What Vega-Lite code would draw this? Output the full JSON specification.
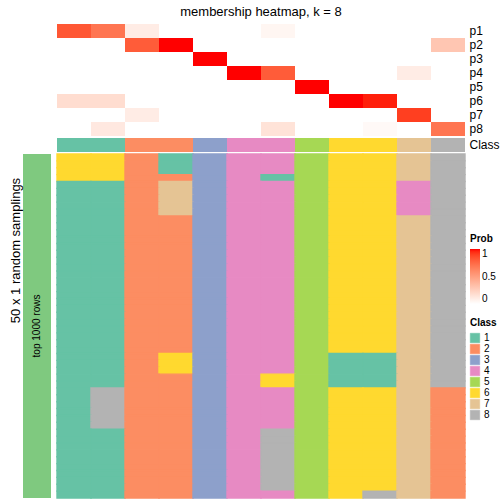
{
"$schema":"https://vega.github.io/schema/vega-lite/v6.json",
"padding":{"left":9,"top":6,"right":0,"bottom":0},
"config":{"font":"Liberation Sans","view":{"stroke":null},"title":{"fontSize":13,"fontWeight":"normal","color":"#000"},"axis":{"labelColor":"#000","titleColor":"#000"},"legend":{"titleColor":"#000","labelColor":"#000"}},
"datasets":{
"prob":[
{"p":"p1","col":1,"prob":0.82},{"p":"p1","col":2,"prob":0.70},{"p":"p1","col":3,"prob":0.10},{"p":"p1","col":4,"prob":0},{"p":"p1","col":5,"prob":0},{"p":"p1","col":6,"prob":0},{"p":"p1","col":7,"prob":0.05},{"p":"p1","col":8,"prob":0},{"p":"p1","col":9,"prob":0},{"p":"p1","col":10,"prob":0},{"p":"p1","col":11,"prob":0},{"p":"p1","col":12,"prob":0},
{"p":"p2","col":1,"prob":0},{"p":"p2","col":2,"prob":0},{"p":"p2","col":3,"prob":0.80},{"p":"p2","col":4,"prob":1},{"p":"p2","col":5,"prob":0},{"p":"p2","col":6,"prob":0},{"p":"p2","col":7,"prob":0},{"p":"p2","col":8,"prob":0},{"p":"p2","col":9,"prob":0},{"p":"p2","col":10,"prob":0},{"p":"p2","col":11,"prob":0},{"p":"p2","col":12,"prob":0.30},
{"p":"p3","col":1,"prob":0},{"p":"p3","col":2,"prob":0},{"p":"p3","col":3,"prob":0},{"p":"p3","col":4,"prob":0},{"p":"p3","col":5,"prob":1},{"p":"p3","col":6,"prob":0},{"p":"p3","col":7,"prob":0},{"p":"p3","col":8,"prob":0},{"p":"p3","col":9,"prob":0},{"p":"p3","col":10,"prob":0},{"p":"p3","col":11,"prob":0},{"p":"p3","col":12,"prob":0},
{"p":"p4","col":1,"prob":0},{"p":"p4","col":2,"prob":0},{"p":"p4","col":3,"prob":0},{"p":"p4","col":4,"prob":0},{"p":"p4","col":5,"prob":0},{"p":"p4","col":6,"prob":1},{"p":"p4","col":7,"prob":0.80},{"p":"p4","col":8,"prob":0},{"p":"p4","col":9,"prob":0},{"p":"p4","col":10,"prob":0},{"p":"p4","col":11,"prob":0.10},{"p":"p4","col":12,"prob":0},
{"p":"p5","col":1,"prob":0},{"p":"p5","col":2,"prob":0},{"p":"p5","col":3,"prob":0},{"p":"p5","col":4,"prob":0},{"p":"p5","col":5,"prob":0},{"p":"p5","col":6,"prob":0},{"p":"p5","col":7,"prob":0},{"p":"p5","col":8,"prob":1},{"p":"p5","col":9,"prob":0},{"p":"p5","col":10,"prob":0},{"p":"p5","col":11,"prob":0},{"p":"p5","col":12,"prob":0},
{"p":"p6","col":1,"prob":0.18},{"p":"p6","col":2,"prob":0.18},{"p":"p6","col":3,"prob":0},{"p":"p6","col":4,"prob":0},{"p":"p6","col":5,"prob":0},{"p":"p6","col":6,"prob":0},{"p":"p6","col":7,"prob":0},{"p":"p6","col":8,"prob":0},{"p":"p6","col":9,"prob":1},{"p":"p6","col":10,"prob":0.97},{"p":"p6","col":11,"prob":0},{"p":"p6","col":12,"prob":0},
{"p":"p7","col":1,"prob":0},{"p":"p7","col":2,"prob":0},{"p":"p7","col":3,"prob":0.10},{"p":"p7","col":4,"prob":0},{"p":"p7","col":5,"prob":0},{"p":"p7","col":6,"prob":0},{"p":"p7","col":7,"prob":0},{"p":"p7","col":8,"prob":0},{"p":"p7","col":9,"prob":0},{"p":"p7","col":10,"prob":0},{"p":"p7","col":11,"prob":0.90},{"p":"p7","col":12,"prob":0},
{"p":"p8","col":1,"prob":0},{"p":"p8","col":2,"prob":0.12},{"p":"p8","col":3,"prob":0},{"p":"p8","col":4,"prob":0},{"p":"p8","col":5,"prob":0},{"p":"p8","col":6,"prob":0},{"p":"p8","col":7,"prob":0.15},{"p":"p8","col":8,"prob":0},{"p":"p8","col":9,"prob":0},{"p":"p8","col":10,"prob":0.03},{"p":"p8","col":11,"prob":0},{"p":"p8","col":12,"prob":0.70}
],
"classrow":[
{"col":1,"cls":1},{"col":2,"cls":1},{"col":3,"cls":2},{"col":4,"cls":2},{"col":5,"cls":3},{"col":6,"cls":4},{"col":7,"cls":4},{"col":8,"cls":5},{"col":9,"cls":6},{"col":10,"cls":6},{"col":11,"cls":7},{"col":12,"cls":8}
],
"samples":[
{"row":0,"col":1,"cls":6},{"row":0,"col":2,"cls":6},{"row":0,"col":3,"cls":2},{"row":0,"col":4,"cls":1},{"row":0,"col":5,"cls":3},{"row":0,"col":6,"cls":4},{"row":0,"col":7,"cls":4},{"row":0,"col":8,"cls":5},{"row":0,"col":9,"cls":6},{"row":0,"col":10,"cls":6},{"row":0,"col":11,"cls":7},{"row":0,"col":12,"cls":8},
{"row":1,"col":1,"cls":6},{"row":1,"col":2,"cls":6},{"row":1,"col":3,"cls":2},{"row":1,"col":4,"cls":1},{"row":1,"col":5,"cls":3},{"row":1,"col":6,"cls":4},{"row":1,"col":7,"cls":4},{"row":1,"col":8,"cls":5},{"row":1,"col":9,"cls":6},{"row":1,"col":10,"cls":6},{"row":1,"col":11,"cls":7},{"row":1,"col":12,"cls":8},
{"row":2,"col":1,"cls":6},{"row":2,"col":2,"cls":6},{"row":2,"col":3,"cls":2},{"row":2,"col":4,"cls":1},{"row":2,"col":5,"cls":3},{"row":2,"col":6,"cls":4},{"row":2,"col":7,"cls":4},{"row":2,"col":8,"cls":5},{"row":2,"col":9,"cls":6},{"row":2,"col":10,"cls":6},{"row":2,"col":11,"cls":7},{"row":2,"col":12,"cls":8},
{"row":3,"col":1,"cls":6},{"row":3,"col":2,"cls":6},{"row":3,"col":3,"cls":2},{"row":3,"col":4,"cls":2},{"row":3,"col":5,"cls":3},{"row":3,"col":6,"cls":4},{"row":3,"col":7,"cls":1},{"row":3,"col":8,"cls":5},{"row":3,"col":9,"cls":6},{"row":3,"col":10,"cls":6},{"row":3,"col":11,"cls":7},{"row":3,"col":12,"cls":8},
{"row":4,"col":1,"cls":1},{"row":4,"col":2,"cls":1},{"row":4,"col":3,"cls":2},{"row":4,"col":4,"cls":7},{"row":4,"col":5,"cls":3},{"row":4,"col":6,"cls":4},{"row":4,"col":7,"cls":4},{"row":4,"col":8,"cls":5},{"row":4,"col":9,"cls":6},{"row":4,"col":10,"cls":6},{"row":4,"col":11,"cls":4},{"row":4,"col":12,"cls":8},
{"row":5,"col":1,"cls":1},{"row":5,"col":2,"cls":1},{"row":5,"col":3,"cls":2},{"row":5,"col":4,"cls":7},{"row":5,"col":5,"cls":3},{"row":5,"col":6,"cls":4},{"row":5,"col":7,"cls":4},{"row":5,"col":8,"cls":5},{"row":5,"col":9,"cls":6},{"row":5,"col":10,"cls":6},{"row":5,"col":11,"cls":4},{"row":5,"col":12,"cls":8},
{"row":6,"col":1,"cls":1},{"row":6,"col":2,"cls":1},{"row":6,"col":3,"cls":2},{"row":6,"col":4,"cls":7},{"row":6,"col":5,"cls":3},{"row":6,"col":6,"cls":4},{"row":6,"col":7,"cls":4},{"row":6,"col":8,"cls":5},{"row":6,"col":9,"cls":6},{"row":6,"col":10,"cls":6},{"row":6,"col":11,"cls":4},{"row":6,"col":12,"cls":8},
{"row":7,"col":1,"cls":1},{"row":7,"col":2,"cls":1},{"row":7,"col":3,"cls":2},{"row":7,"col":4,"cls":7},{"row":7,"col":5,"cls":3},{"row":7,"col":6,"cls":4},{"row":7,"col":7,"cls":4},{"row":7,"col":8,"cls":5},{"row":7,"col":9,"cls":6},{"row":7,"col":10,"cls":6},{"row":7,"col":11,"cls":4},{"row":7,"col":12,"cls":8},
{"row":8,"col":1,"cls":1},{"row":8,"col":2,"cls":1},{"row":8,"col":3,"cls":2},{"row":8,"col":4,"cls":7},{"row":8,"col":5,"cls":3},{"row":8,"col":6,"cls":4},{"row":8,"col":7,"cls":4},{"row":8,"col":8,"cls":5},{"row":8,"col":9,"cls":6},{"row":8,"col":10,"cls":6},{"row":8,"col":11,"cls":4},{"row":8,"col":12,"cls":8},
{"row":9,"col":1,"cls":1},{"row":9,"col":2,"cls":1},{"row":9,"col":3,"cls":2},{"row":9,"col":4,"cls":2},{"row":9,"col":5,"cls":3},{"row":9,"col":6,"cls":4},{"row":9,"col":7,"cls":4},{"row":9,"col":8,"cls":5},{"row":9,"col":9,"cls":6},{"row":9,"col":10,"cls":6},{"row":9,"col":11,"cls":7},{"row":9,"col":12,"cls":8},
{"row":10,"col":1,"cls":1},{"row":10,"col":2,"cls":1},{"row":10,"col":3,"cls":2},{"row":10,"col":4,"cls":2},{"row":10,"col":5,"cls":3},{"row":10,"col":6,"cls":4},{"row":10,"col":7,"cls":4},{"row":10,"col":8,"cls":5},{"row":10,"col":9,"cls":6},{"row":10,"col":10,"cls":6},{"row":10,"col":11,"cls":7},{"row":10,"col":12,"cls":8},
{"row":11,"col":1,"cls":1},{"row":11,"col":2,"cls":1},{"row":11,"col":3,"cls":2},{"row":11,"col":4,"cls":2},{"row":11,"col":5,"cls":3},{"row":11,"col":6,"cls":4},{"row":11,"col":7,"cls":4},{"row":11,"col":8,"cls":5},{"row":11,"col":9,"cls":6},{"row":11,"col":10,"cls":6},{"row":11,"col":11,"cls":7},{"row":11,"col":12,"cls":8},
{"row":12,"col":1,"cls":1},{"row":12,"col":2,"cls":1},{"row":12,"col":3,"cls":2},{"row":12,"col":4,"cls":2},{"row":12,"col":5,"cls":3},{"row":12,"col":6,"cls":4},{"row":12,"col":7,"cls":4},{"row":12,"col":8,"cls":5},{"row":12,"col":9,"cls":6},{"row":12,"col":10,"cls":6},{"row":12,"col":11,"cls":7},{"row":12,"col":12,"cls":8},
{"row":13,"col":1,"cls":1},{"row":13,"col":2,"cls":1},{"row":13,"col":3,"cls":2},{"row":13,"col":4,"cls":2},{"row":13,"col":5,"cls":3},{"row":13,"col":6,"cls":4},{"row":13,"col":7,"cls":4},{"row":13,"col":8,"cls":5},{"row":13,"col":9,"cls":6},{"row":13,"col":10,"cls":6},{"row":13,"col":11,"cls":7},{"row":13,"col":12,"cls":8},
{"row":14,"col":1,"cls":1},{"row":14,"col":2,"cls":1},{"row":14,"col":3,"cls":2},{"row":14,"col":4,"cls":2},{"row":14,"col":5,"cls":3},{"row":14,"col":6,"cls":4},{"row":14,"col":7,"cls":4},{"row":14,"col":8,"cls":5},{"row":14,"col":9,"cls":6},{"row":14,"col":10,"cls":6},{"row":14,"col":11,"cls":7},{"row":14,"col":12,"cls":8},
{"row":15,"col":1,"cls":1},{"row":15,"col":2,"cls":1},{"row":15,"col":3,"cls":2},{"row":15,"col":4,"cls":2},{"row":15,"col":5,"cls":3},{"row":15,"col":6,"cls":4},{"row":15,"col":7,"cls":4},{"row":15,"col":8,"cls":5},{"row":15,"col":9,"cls":6},{"row":15,"col":10,"cls":6},{"row":15,"col":11,"cls":7},{"row":15,"col":12,"cls":8},
{"row":16,"col":1,"cls":1},{"row":16,"col":2,"cls":1},{"row":16,"col":3,"cls":2},{"row":16,"col":4,"cls":2},{"row":16,"col":5,"cls":3},{"row":16,"col":6,"cls":4},{"row":16,"col":7,"cls":4},{"row":16,"col":8,"cls":5},{"row":16,"col":9,"cls":6},{"row":16,"col":10,"cls":6},{"row":16,"col":11,"cls":7},{"row":16,"col":12,"cls":8},
{"row":17,"col":1,"cls":1},{"row":17,"col":2,"cls":1},{"row":17,"col":3,"cls":2},{"row":17,"col":4,"cls":2},{"row":17,"col":5,"cls":3},{"row":17,"col":6,"cls":4},{"row":17,"col":7,"cls":4},{"row":17,"col":8,"cls":5},{"row":17,"col":9,"cls":6},{"row":17,"col":10,"cls":6},{"row":17,"col":11,"cls":7},{"row":17,"col":12,"cls":8},
{"row":18,"col":1,"cls":1},{"row":18,"col":2,"cls":1},{"row":18,"col":3,"cls":2},{"row":18,"col":4,"cls":2},{"row":18,"col":5,"cls":3},{"row":18,"col":6,"cls":4},{"row":18,"col":7,"cls":4},{"row":18,"col":8,"cls":5},{"row":18,"col":9,"cls":6},{"row":18,"col":10,"cls":6},{"row":18,"col":11,"cls":7},{"row":18,"col":12,"cls":8},
{"row":19,"col":1,"cls":1},{"row":19,"col":2,"cls":1},{"row":19,"col":3,"cls":2},{"row":19,"col":4,"cls":2},{"row":19,"col":5,"cls":3},{"row":19,"col":6,"cls":4},{"row":19,"col":7,"cls":4},{"row":19,"col":8,"cls":5},{"row":19,"col":9,"cls":6},{"row":19,"col":10,"cls":6},{"row":19,"col":11,"cls":7},{"row":19,"col":12,"cls":8},
{"row":20,"col":1,"cls":1},{"row":20,"col":2,"cls":1},{"row":20,"col":3,"cls":2},{"row":20,"col":4,"cls":2},{"row":20,"col":5,"cls":3},{"row":20,"col":6,"cls":4},{"row":20,"col":7,"cls":4},{"row":20,"col":8,"cls":5},{"row":20,"col":9,"cls":6},{"row":20,"col":10,"cls":6},{"row":20,"col":11,"cls":7},{"row":20,"col":12,"cls":8},
{"row":21,"col":1,"cls":1},{"row":21,"col":2,"cls":1},{"row":21,"col":3,"cls":2},{"row":21,"col":4,"cls":2},{"row":21,"col":5,"cls":3},{"row":21,"col":6,"cls":4},{"row":21,"col":7,"cls":4},{"row":21,"col":8,"cls":5},{"row":21,"col":9,"cls":6},{"row":21,"col":10,"cls":6},{"row":21,"col":11,"cls":7},{"row":21,"col":12,"cls":8},
{"row":22,"col":1,"cls":1},{"row":22,"col":2,"cls":1},{"row":22,"col":3,"cls":2},{"row":22,"col":4,"cls":2},{"row":22,"col":5,"cls":3},{"row":22,"col":6,"cls":4},{"row":22,"col":7,"cls":4},{"row":22,"col":8,"cls":5},{"row":22,"col":9,"cls":6},{"row":22,"col":10,"cls":6},{"row":22,"col":11,"cls":7},{"row":22,"col":12,"cls":8},
{"row":23,"col":1,"cls":1},{"row":23,"col":2,"cls":1},{"row":23,"col":3,"cls":2},{"row":23,"col":4,"cls":2},{"row":23,"col":5,"cls":3},{"row":23,"col":6,"cls":4},{"row":23,"col":7,"cls":4},{"row":23,"col":8,"cls":5},{"row":23,"col":9,"cls":6},{"row":23,"col":10,"cls":6},{"row":23,"col":11,"cls":7},{"row":23,"col":12,"cls":8},
{"row":24,"col":1,"cls":1},{"row":24,"col":2,"cls":1},{"row":24,"col":3,"cls":2},{"row":24,"col":4,"cls":2},{"row":24,"col":5,"cls":3},{"row":24,"col":6,"cls":4},{"row":24,"col":7,"cls":4},{"row":24,"col":8,"cls":5},{"row":24,"col":9,"cls":6},{"row":24,"col":10,"cls":6},{"row":24,"col":11,"cls":7},{"row":24,"col":12,"cls":8},
{"row":25,"col":1,"cls":1},{"row":25,"col":2,"cls":1},{"row":25,"col":3,"cls":2},{"row":25,"col":4,"cls":2},{"row":25,"col":5,"cls":3},{"row":25,"col":6,"cls":4},{"row":25,"col":7,"cls":4},{"row":25,"col":8,"cls":5},{"row":25,"col":9,"cls":6},{"row":25,"col":10,"cls":6},{"row":25,"col":11,"cls":7},{"row":25,"col":12,"cls":8},
{"row":26,"col":1,"cls":1},{"row":26,"col":2,"cls":1},{"row":26,"col":3,"cls":2},{"row":26,"col":4,"cls":2},{"row":26,"col":5,"cls":3},{"row":26,"col":6,"cls":4},{"row":26,"col":7,"cls":4},{"row":26,"col":8,"cls":5},{"row":26,"col":9,"cls":6},{"row":26,"col":10,"cls":6},{"row":26,"col":11,"cls":7},{"row":26,"col":12,"cls":8},
{"row":27,"col":1,"cls":1},{"row":27,"col":2,"cls":1},{"row":27,"col":3,"cls":2},{"row":27,"col":4,"cls":2},{"row":27,"col":5,"cls":3},{"row":27,"col":6,"cls":4},{"row":27,"col":7,"cls":4},{"row":27,"col":8,"cls":5},{"row":27,"col":9,"cls":6},{"row":27,"col":10,"cls":6},{"row":27,"col":11,"cls":7},{"row":27,"col":12,"cls":8},
{"row":28,"col":1,"cls":1},{"row":28,"col":2,"cls":1},{"row":28,"col":3,"cls":2},{"row":28,"col":4,"cls":2},{"row":28,"col":5,"cls":3},{"row":28,"col":6,"cls":4},{"row":28,"col":7,"cls":4},{"row":28,"col":8,"cls":5},{"row":28,"col":9,"cls":6},{"row":28,"col":10,"cls":6},{"row":28,"col":11,"cls":7},{"row":28,"col":12,"cls":8},
{"row":29,"col":1,"cls":1},{"row":29,"col":2,"cls":1},{"row":29,"col":3,"cls":2},{"row":29,"col":4,"cls":6},{"row":29,"col":5,"cls":3},{"row":29,"col":6,"cls":4},{"row":29,"col":7,"cls":4},{"row":29,"col":8,"cls":5},{"row":29,"col":9,"cls":1},{"row":29,"col":10,"cls":1},{"row":29,"col":11,"cls":7},{"row":29,"col":12,"cls":8},
{"row":30,"col":1,"cls":1},{"row":30,"col":2,"cls":1},{"row":30,"col":3,"cls":2},{"row":30,"col":4,"cls":6},{"row":30,"col":5,"cls":3},{"row":30,"col":6,"cls":4},{"row":30,"col":7,"cls":4},{"row":30,"col":8,"cls":5},{"row":30,"col":9,"cls":1},{"row":30,"col":10,"cls":1},{"row":30,"col":11,"cls":7},{"row":30,"col":12,"cls":8},
{"row":31,"col":1,"cls":1},{"row":31,"col":2,"cls":1},{"row":31,"col":3,"cls":2},{"row":31,"col":4,"cls":6},{"row":31,"col":5,"cls":3},{"row":31,"col":6,"cls":4},{"row":31,"col":7,"cls":4},{"row":31,"col":8,"cls":5},{"row":31,"col":9,"cls":1},{"row":31,"col":10,"cls":1},{"row":31,"col":11,"cls":7},{"row":31,"col":12,"cls":8},
{"row":32,"col":1,"cls":1},{"row":32,"col":2,"cls":1},{"row":32,"col":3,"cls":2},{"row":32,"col":4,"cls":2},{"row":32,"col":5,"cls":3},{"row":32,"col":6,"cls":4},{"row":32,"col":7,"cls":6},{"row":32,"col":8,"cls":5},{"row":32,"col":9,"cls":1},{"row":32,"col":10,"cls":1},{"row":32,"col":11,"cls":7},{"row":32,"col":12,"cls":8},
{"row":33,"col":1,"cls":1},{"row":33,"col":2,"cls":1},{"row":33,"col":3,"cls":2},{"row":33,"col":4,"cls":2},{"row":33,"col":5,"cls":3},{"row":33,"col":6,"cls":4},{"row":33,"col":7,"cls":6},{"row":33,"col":8,"cls":5},{"row":33,"col":9,"cls":1},{"row":33,"col":10,"cls":1},{"row":33,"col":11,"cls":7},{"row":33,"col":12,"cls":8},
{"row":34,"col":1,"cls":1},{"row":34,"col":2,"cls":8},{"row":34,"col":3,"cls":2},{"row":34,"col":4,"cls":2},{"row":34,"col":5,"cls":3},{"row":34,"col":6,"cls":4},{"row":34,"col":7,"cls":4},{"row":34,"col":8,"cls":5},{"row":34,"col":9,"cls":6},{"row":34,"col":10,"cls":6},{"row":34,"col":11,"cls":7},{"row":34,"col":12,"cls":2},
{"row":35,"col":1,"cls":1},{"row":35,"col":2,"cls":8},{"row":35,"col":3,"cls":2},{"row":35,"col":4,"cls":2},{"row":35,"col":5,"cls":3},{"row":35,"col":6,"cls":4},{"row":35,"col":7,"cls":4},{"row":35,"col":8,"cls":5},{"row":35,"col":9,"cls":6},{"row":35,"col":10,"cls":6},{"row":35,"col":11,"cls":7},{"row":35,"col":12,"cls":2},
{"row":36,"col":1,"cls":1},{"row":36,"col":2,"cls":8},{"row":36,"col":3,"cls":2},{"row":36,"col":4,"cls":2},{"row":36,"col":5,"cls":3},{"row":36,"col":6,"cls":4},{"row":36,"col":7,"cls":4},{"row":36,"col":8,"cls":5},{"row":36,"col":9,"cls":6},{"row":36,"col":10,"cls":6},{"row":36,"col":11,"cls":7},{"row":36,"col":12,"cls":2},
{"row":37,"col":1,"cls":1},{"row":37,"col":2,"cls":8},{"row":37,"col":3,"cls":2},{"row":37,"col":4,"cls":2},{"row":37,"col":5,"cls":3},{"row":37,"col":6,"cls":4},{"row":37,"col":7,"cls":4},{"row":37,"col":8,"cls":5},{"row":37,"col":9,"cls":6},{"row":37,"col":10,"cls":6},{"row":37,"col":11,"cls":7},{"row":37,"col":12,"cls":2},
{"row":38,"col":1,"cls":1},{"row":38,"col":2,"cls":8},{"row":38,"col":3,"cls":2},{"row":38,"col":4,"cls":2},{"row":38,"col":5,"cls":3},{"row":38,"col":6,"cls":4},{"row":38,"col":7,"cls":4},{"row":38,"col":8,"cls":5},{"row":38,"col":9,"cls":6},{"row":38,"col":10,"cls":6},{"row":38,"col":11,"cls":7},{"row":38,"col":12,"cls":2},
{"row":39,"col":1,"cls":1},{"row":39,"col":2,"cls":8},{"row":39,"col":3,"cls":2},{"row":39,"col":4,"cls":2},{"row":39,"col":5,"cls":3},{"row":39,"col":6,"cls":4},{"row":39,"col":7,"cls":4},{"row":39,"col":8,"cls":5},{"row":39,"col":9,"cls":6},{"row":39,"col":10,"cls":6},{"row":39,"col":11,"cls":7},{"row":39,"col":12,"cls":2},
{"row":40,"col":1,"cls":1},{"row":40,"col":2,"cls":1},{"row":40,"col":3,"cls":2},{"row":40,"col":4,"cls":2},{"row":40,"col":5,"cls":3},{"row":40,"col":6,"cls":4},{"row":40,"col":7,"cls":8},{"row":40,"col":8,"cls":5},{"row":40,"col":9,"cls":6},{"row":40,"col":10,"cls":6},{"row":40,"col":11,"cls":7},{"row":40,"col":12,"cls":2},
{"row":41,"col":1,"cls":1},{"row":41,"col":2,"cls":1},{"row":41,"col":3,"cls":2},{"row":41,"col":4,"cls":2},{"row":41,"col":5,"cls":3},{"row":41,"col":6,"cls":4},{"row":41,"col":7,"cls":8},{"row":41,"col":8,"cls":5},{"row":41,"col":9,"cls":6},{"row":41,"col":10,"cls":6},{"row":41,"col":11,"cls":7},{"row":41,"col":12,"cls":2},
{"row":42,"col":1,"cls":1},{"row":42,"col":2,"cls":1},{"row":42,"col":3,"cls":2},{"row":42,"col":4,"cls":2},{"row":42,"col":5,"cls":3},{"row":42,"col":6,"cls":4},{"row":42,"col":7,"cls":8},{"row":42,"col":8,"cls":5},{"row":42,"col":9,"cls":6},{"row":42,"col":10,"cls":6},{"row":42,"col":11,"cls":7},{"row":42,"col":12,"cls":2},
{"row":43,"col":1,"cls":1},{"row":43,"col":2,"cls":1},{"row":43,"col":3,"cls":2},{"row":43,"col":4,"cls":2},{"row":43,"col":5,"cls":3},{"row":43,"col":6,"cls":4},{"row":43,"col":7,"cls":8},{"row":43,"col":8,"cls":5},{"row":43,"col":9,"cls":6},{"row":43,"col":10,"cls":6},{"row":43,"col":11,"cls":7},{"row":43,"col":12,"cls":2},
{"row":44,"col":1,"cls":1},{"row":44,"col":2,"cls":1},{"row":44,"col":3,"cls":2},{"row":44,"col":4,"cls":2},{"row":44,"col":5,"cls":3},{"row":44,"col":6,"cls":4},{"row":44,"col":7,"cls":8},{"row":44,"col":8,"cls":5},{"row":44,"col":9,"cls":6},{"row":44,"col":10,"cls":6},{"row":44,"col":11,"cls":7},{"row":44,"col":12,"cls":2},
{"row":45,"col":1,"cls":1},{"row":45,"col":2,"cls":1},{"row":45,"col":3,"cls":2},{"row":45,"col":4,"cls":2},{"row":45,"col":5,"cls":3},{"row":45,"col":6,"cls":4},{"row":45,"col":7,"cls":8},{"row":45,"col":8,"cls":5},{"row":45,"col":9,"cls":6},{"row":45,"col":10,"cls":6},{"row":45,"col":11,"cls":7},{"row":45,"col":12,"cls":2},
{"row":46,"col":1,"cls":1},{"row":46,"col":2,"cls":1},{"row":46,"col":3,"cls":2},{"row":46,"col":4,"cls":2},{"row":46,"col":5,"cls":3},{"row":46,"col":6,"cls":4},{"row":46,"col":7,"cls":8},{"row":46,"col":8,"cls":5},{"row":46,"col":9,"cls":6},{"row":46,"col":10,"cls":6},{"row":46,"col":11,"cls":7},{"row":46,"col":12,"cls":2},
{"row":47,"col":1,"cls":1},{"row":47,"col":2,"cls":1},{"row":47,"col":3,"cls":2},{"row":47,"col":4,"cls":2},{"row":47,"col":5,"cls":3},{"row":47,"col":6,"cls":4},{"row":47,"col":7,"cls":8},{"row":47,"col":8,"cls":5},{"row":47,"col":9,"cls":6},{"row":47,"col":10,"cls":6},{"row":47,"col":11,"cls":7},{"row":47,"col":12,"cls":2},
{"row":48,"col":1,"cls":1},{"row":48,"col":2,"cls":1},{"row":48,"col":3,"cls":2},{"row":48,"col":4,"cls":2},{"row":48,"col":5,"cls":3},{"row":48,"col":6,"cls":4},{"row":48,"col":7,"cls":8},{"row":48,"col":8,"cls":5},{"row":48,"col":9,"cls":6},{"row":48,"col":10,"cls":6},{"row":48,"col":11,"cls":7},{"row":48,"col":12,"cls":2},
{"row":49,"col":1,"cls":1},{"row":49,"col":2,"cls":1},{"row":49,"col":3,"cls":2},{"row":49,"col":4,"cls":2},{"row":49,"col":5,"cls":3},{"row":49,"col":6,"cls":4},{"row":49,"col":7,"cls":4},{"row":49,"col":8,"cls":5},{"row":49,"col":9,"cls":6},{"row":49,"col":10,"cls":8},{"row":49,"col":11,"cls":7},{"row":49,"col":12,"cls":2}
],
"side":[{"label":"top 1000 rows"}]
},
"bounds":"flush",
"columns":2,
"spacing":{"row":2,"column":6},
"resolve":{"scale":{"color":"independent","fill":"independent","stroke":"independent"},"legend":{"color":"independent","fill":"independent","stroke":"independent"}},
"concat":[
 {"width":28,"height":112,"data":{"name":"side"},"mark":{"type":"rect","opacity":0},"encoding":{}},
 {"width":408,"height":112,"data":{"name":"prob"},
  "title":{"text":"membership heatmap, k = 8","offset":5},
  "mark":"rect",
  "encoding":{
    "x":{"field":"col","type":"ordinal","axis":null},
    "y":{"field":"p","type":"nominal","axis":{"orient":"right","title":null,"ticks":false,"domain":false,"labelFontSize":12,"labelPadding":4}},
    "fill":{"field":"prob","type":"quantitative","scale":{"domain":[0,1],"range":["#ffffff","#ff0000"],"interpolate":"lab"},
      "legend":{"title":"Prob","orient":"none","legendX":413,"legendY":210,"values":[0,0.5,1],"labelExpr":"datum.value + ''","gradientLength":55,"gradientThickness":10,"titleFontSize":10,"labelFontSize":10,"titleFontWeight":"bold","direction":"vertical"}}
  }},
 {"width":28,"height":14,"data":{"name":"side"},"mark":{"type":"rect","opacity":0},"encoding":{}},
 {"width":408,"height":14,"data":{"name":"classrow"},
  "mark":"rect",
  "encoding":{
    "x":{"field":"col","type":"ordinal","axis":null},
    "y":{"datum":"Class","type":"nominal","axis":{"orient":"right","title":null,"ticks":false,"domain":false,"labelFontSize":12,"labelPadding":4}},
    "color":{"field":"cls","type":"nominal","scale":{"domain":[1,2,3,4,5,6,7,8],"range":["#66C2A5","#FC8D62","#8DA0CB","#E78AC3","#A6D854","#FFD92F","#E5C494","#B3B3B3"]},"legend":null}
  }},
 {"width":28,"height":344,"data":{"name":"side"},
  "encoding":{"y":{"field":"label","type":"nominal","axis":{"title":"50 x 1 random samplings","labels":false,"ticks":false,"domain":false,"titleFontSize":13,"titleFontWeight":"normal","titlePadding":1,"minExtent":0,"titleY":96}}},
  "layer":[
    {"mark":{"type":"rect","fill":"#7FC97F"}},
    {"mark":{"type":"text","angle":270,"fontSize":10,"color":"#000"},"encoding":{"text":{"field":"label"}}}
  ]},
 {"width":408,"height":344,"data":{"name":"samples"},
  "mark":{"type":"rect","strokeWidth":1.4},
  "encoding":{
    "x":{"field":"col","type":"ordinal","axis":null},
    "y":{"field":"row","type":"ordinal","axis":null},
    "stroke":{"field":"cls","type":"nominal","scale":{"domain":[1,2,3,4,5,6,7,8],"range":["#66C2A5","#FC8D62","#8DA0CB","#E78AC3","#A6D854","#FFD92F","#E5C494","#B3B3B3"]},"legend":null},
    "color":{"field":"cls","type":"nominal","scale":{"domain":[1,2,3,4,5,6,7,8],"range":["#66C2A5","#FC8D62","#8DA0CB","#E78AC3","#A6D854","#FFD92F","#E5C494","#B3B3B3"]},
      "legend":{"title":"Class","orient":"none","legendX":413,"legendY":164,"symbolType":"square","symbolSize":90,"symbolStrokeColor":"#dddddd","symbolStrokeWidth":0.5,"rowPadding":-1,"titleFontSize":10,"labelFontSize":10,"titleFontWeight":"bold"}}
  }}
]
}
